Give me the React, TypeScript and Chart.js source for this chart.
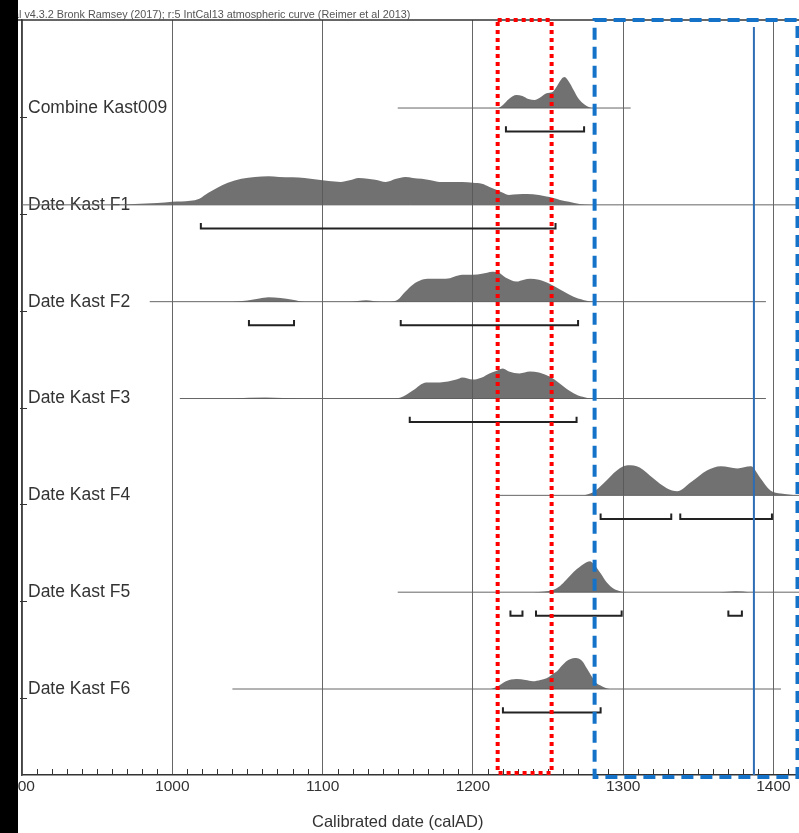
import React, { useEffect, useRef } from 'react';
import { Chart, registerables } from 'chart.js';

Chart.register(...registerables);

// ---------- data ----------
const ROW_LABELS = [
  'Combine Kast009',
  'Date Kast F1',
  'Date Kast F2',
  'Date Kast F3',
  'Date Kast F4',
  'Date Kast F5',
  'Date Kast F6',
];

const X_MIN = 900;
const X_MAX = 1417;
const X_TICK_STEP = 100;
const X_MINOR_STEP = 10;
const X_TITLE = 'Calibrated date (calAD)';
const HEADER = 'OxCal v4.3.2 Bronk Ramsey (2017); r:5 IntCal13 atmospheric curve (Reimer et al 2013)';

// [year, relative probability (peak = 100)]
const DENSITY_COMBINE = [
  [1217, 0], [1220, 10], [1224, 29], [1229, 42], [1233, 39], [1237, 29], [1241, 26], [1245, 35],
  [1249, 48], [1253, 52], [1256, 71], [1259, 94], [1261, 100], [1264, 84], [1267, 58], [1270, 32],
  [1273, 16], [1276, 6], [1279, 0],
];
const DENSITY_F1 = [
  [960, 0], [975, 3], [990, 6], [1000, 10], [1012, 13], [1018, 20], [1024, 39], [1030, 55], [1037, 71],
  [1046, 84], [1055, 90], [1064, 92], [1071, 90], [1080, 89], [1088, 87], [1096, 82], [1104, 77],
  [1112, 74], [1118, 79], [1124, 87], [1130, 84], [1135, 81], [1142, 74], [1149, 84], [1155, 90],
  [1160, 87], [1166, 84], [1172, 79], [1178, 74], [1186, 74], [1193, 74], [1200, 71], [1206, 68],
  [1211, 58], [1216, 48], [1220, 39], [1224, 32], [1230, 34], [1236, 35], [1244, 32], [1249, 27],
  [1253, 23], [1258, 16], [1264, 10], [1271, 3], [1278, 0],
];
const DENSITY_F2 = [
  [1040, 0], [1050, 4], [1058, 10], [1064, 14], [1072, 12], [1080, 6], [1088, 0],
  [1118, 0], [1129, 5], [1138, 0],
  [1145, 0], [1150, 6], [1155, 32], [1160, 55], [1166, 71], [1171, 74], [1182, 74], [1193, 87],
  [1200, 87], [1206, 90], [1213, 97], [1217, 94], [1222, 77], [1229, 65], [1234, 71], [1238, 74],
  [1244, 71], [1251, 58], [1258, 39], [1264, 23], [1270, 10], [1274, 5], [1279, 0],
];
const DENSITY_F3 = [
  [1040, 0], [1062, 3], [1085, 0],
  [1148, 0], [1152, 3], [1160, 26], [1169, 52], [1178, 52], [1189, 61], [1193, 68], [1200, 61],
  [1206, 68], [1211, 81], [1216, 90], [1220, 97], [1224, 87], [1231, 81], [1238, 87], [1244, 84],
  [1251, 71], [1258, 48], [1264, 26], [1270, 10], [1273, 6], [1278, 0],
];
const DENSITY_F4 = [
  [1274, 0], [1280, 10], [1287, 39], [1296, 81], [1303, 97], [1311, 90], [1320, 55], [1329, 23],
  [1336, 13], [1345, 42], [1356, 81], [1365, 94], [1376, 87], [1385, 94], [1391, 58], [1398, 16],
  [1405, 6], [1410, 3], [1416, 0],
];
const DENSITY_F5 = [
  [1240, 0], [1248, 2], [1253, 6], [1258, 20], [1262, 39], [1267, 65], [1271, 81], [1276, 97],
  [1278, 100], [1281, 87], [1285, 61], [1289, 32], [1294, 10], [1298, 3], [1302, 0],
  [1364, 0], [1375, 3], [1384, 0],
];
const DENSITY_F6 = [
  [1212, 0], [1217, 10], [1222, 25], [1229, 32], [1235, 29], [1240, 25], [1245, 29], [1249, 35],
  [1253, 48], [1256, 57], [1259, 74], [1262, 89], [1265, 97], [1268, 100], [1271, 97], [1273, 89],
  [1276, 65], [1279, 41], [1282, 20], [1285, 11], [1288, 4], [1291, 0],
];
const DENSITIES = [DENSITY_COMBINE, DENSITY_F1, DENSITY_F2, DENSITY_F3, DENSITY_F4, DENSITY_F5, DENSITY_F6];

// extent of the thin base line of each row [from, to]
const LINE_EXTENTS = [
  [1150, 1305],
  [900, 1417],
  [985, 1395],
  [1005, 1395],
  [1217, 1417],
  [1150, 1417],
  [1040, 1405],
];

// 95.4% ranges (brackets)
const RANGES_COMBINE = [[1222, 1274]];
const RANGES_F1 = [[1019, 1255]];
const RANGES_F2 = [[1051, 1081], [1152, 1270]];
const RANGES_F3 = [[1158, 1269]];
const RANGES_F4 = [[1285, 1332], [1338, 1399]];
const RANGES_F5 = [[1225, 1233], [1242, 1299], [1370, 1379]];
const RANGES_F6 = [[1220, 1285]];
const RANGES = [RANGES_COMBINE, RANGES_F1, RANGES_F2, RANGES_F3, RANGES_F4, RANGES_F5, RANGES_F6];

// highlighted windows
const RED_WINDOW = [1216.5, 1252.4];
const BLUE_WINDOW = [1281, 1416];
const BLUE_MARK = 1387;

// ---------- styling constants ----------
const FONT = '"Liberation Sans", Arial, sans-serif';
const Y_MIN = -0.909;
const Y_MAX = 6.888;
const PEAK = 0.32; // row units for a peak of 100
const BRACKET_OFF = 0.243;
const BRACKET_TICK = 0.055;

const overlayPlugin = {
  id: 'overlay',
  beforeDraw(chart: any) {
    const { ctx, width, height } = chart;
    ctx.save();
    ctx.fillStyle = '#ffffff';
    ctx.fillRect(0, 0, width, height);
    ctx.restore();
  },
  afterDatasetsDraw(chart: any) {
    const { ctx, chartArea, scales } = chart;
    const xs = scales.x;
    const ys = scales.y;
    ctx.save();
    // minor ticks on the bottom axis
    ctx.strokeStyle = '#333';
    ctx.lineWidth = 1;
    ctx.beginPath();
    for (let v = X_MIN + X_MINOR_STEP; v <= X_MAX; v += X_MINOR_STEP) {
      if (v % X_TICK_STEP === 0) continue;
      const px = Math.round(xs.getPixelForValue(v)) + 0.5;
      ctx.moveTo(px, chartArea.bottom);
      ctx.lineTo(px, chartArea.bottom - 6);
    }
    ctx.stroke();
    // row ticks at left
    ctx.beginPath();
    ROW_LABELS.forEach((_, i) => {
      const py = Math.round(ys.getPixelForValue(i)) + 9.5;
      ctx.moveTo(chartArea.left - 2, py);
      ctx.lineTo(chartArea.left + 5, py);
    });
    ctx.stroke();
    // top frame line
    ctx.strokeStyle = '#333';
    ctx.lineWidth = 1.5;
    ctx.beginPath();
    ctx.moveTo(0, chartArea.top);
    ctx.lineTo(chart.width, chartArea.top);
    ctx.stroke();

    // blue solid marker
    const bm = xs.getPixelForValue(BLUE_MARK);
    ctx.strokeStyle = '#2e6db5';
    ctx.lineWidth = 2;
    ctx.beginPath();
    ctx.moveTo(bm, chartArea.top + 7);
    ctx.lineTo(bm, chartArea.bottom);
    ctx.stroke();

    // red dotted window
    const r1 = xs.getPixelForValue(RED_WINDOW[0]);
    const r2 = xs.getPixelForValue(RED_WINDOW[1]);
    ctx.strokeStyle = '#ff0000';
    ctx.lineWidth = 4;
    ctx.setLineDash([4, 4]);
    ctx.strokeRect(r1, chartArea.top, r2 - r1, chartArea.bottom - 2 - chartArea.top);

    // blue dashed window
    const b1 = xs.getPixelForValue(BLUE_WINDOW[0]);
    const b2 = xs.getPixelForValue(BLUE_WINDOW[1]);
    ctx.strokeStyle = '#1473c8';
    ctx.lineWidth = 4;
    ctx.setLineDash([12, 7]);
    ctx.strokeRect(b1, chartArea.top, b2 - b1, chartArea.bottom + 2 - chartArea.top);
    ctx.setLineDash([]);

    // x axis title, centred on the 900-1400 span
    const cx = (xs.getPixelForValue(900) + xs.getPixelForValue(1400)) / 2;
    ctx.fillStyle = '#333';
    ctx.font = `16.5px ${FONT}`;
    ctx.textAlign = 'center';
    ctx.textBaseline = 'middle';
    ctx.fillText(X_TITLE, cx, 822);
    ctx.restore();
  },
  afterDraw(chart: any) {
    const { ctx, chartArea, height } = chart;
    ctx.save();
    ctx.font = `10.8px ${FONT}`;
    ctx.fillStyle = '#555';
    ctx.textAlign = 'left';
    ctx.textBaseline = 'alphabetic';
    const hidden = ctx.measureText('OxCa').width;
    ctx.fillText(HEADER, 19 - hidden, chartArea.top - 2.5);
    // black band on the left edge
    ctx.fillStyle = '#000';
    ctx.fillRect(0, 0, 18, height);
    ctx.restore();
  },
};

export default function App() {
  const canvasRef = useRef<HTMLCanvasElement | null>(null);

  useEffect(() => {
    document.body.style.margin = '0';
    const canvas = canvasRef.current;
    if (!canvas) return;

    const datasets: any[] = [];
    ROW_LABELS.forEach((_, i) => {
      datasets.push({
        data: [
          { x: LINE_EXTENTS[i][0], y: i },
          { x: LINE_EXTENTS[i][1], y: i },
        ],
        borderColor: '#666',
        borderWidth: 1,
        pointRadius: 0,
        fill: false,
        order: 3,
      });
      datasets.push({
        data: DENSITIES[i].map(([x, p]) => ({ x, y: i - (p / 100) * PEAK })),
        borderColor: 'rgba(0,0,0,0)',
        borderWidth: 0,
        backgroundColor: 'rgba(88,88,88,0.85)',
        fill: { value: i },
        pointRadius: 0,
        cubicInterpolationMode: 'monotone',
        order: 2,
      });
      RANGES[i].forEach(([a, b]) => {
        datasets.push({
          data: [
            { x: a, y: i + BRACKET_OFF - BRACKET_TICK },
            { x: a, y: i + BRACKET_OFF },
            { x: b, y: i + BRACKET_OFF },
            { x: b, y: i + BRACKET_OFF - BRACKET_TICK },
          ],
          borderColor: '#222',
          borderWidth: 2,
          pointRadius: 0,
          fill: false,
          tension: 0,
          order: 1,
        });
      });
    });

    const chart = new Chart(canvas, {
      type: 'line',
      data: { datasets },
      options: {
        animation: false,
        responsive: false,
        devicePixelRatio: 1,
        events: [],
        layout: { padding: { left: 22, top: 20, right: 0, bottom: 0 } },
        plugins: { legend: { display: false }, tooltip: { enabled: false } },
        scales: {
          x: {
            type: 'linear',
            min: X_MIN,
            max: X_MAX,
            afterFit: (s: any) => {
              s.height = 58;
            },
            grid: { color: '#666', lineWidth: 1, drawTicks: false },
            border: { display: true, color: '#333', width: 1.5 },
            ticks: {
              stepSize: X_TICK_STEP,
              includeBounds: false,
              autoSkip: false,
              maxRotation: 0,
              padding: 2,
              color: '#333',
              font: { family: FONT, size: 15.5 },
              callback: (v: any) => String(v),
            },
          },
          y: {
            type: 'linear',
            reverse: true,
            min: Y_MIN,
            max: Y_MAX,
            afterFit: (s: any) => {
              s.width = 0;
            },
            afterBuildTicks: (s: any) => {
              s.ticks = ROW_LABELS.map((_, i) => ({ value: i }));
            },
            grid: { display: false, drawTicks: false },
            border: { display: true, color: '#444', width: 1.5 },
            ticks: {
              mirror: true,
              padding: 6,
              color: '#333',
              font: { family: FONT, size: 17.5 },
              callback: (_v: any, idx: number) => ROW_LABELS[idx],
            },
          },
        },
      } as any,
      plugins: [overlayPlugin],
    });

    return () => chart.destroy();
  }, []);

  return (
    <div style={{ width: 799, height: 833 }}>
      <canvas ref={canvasRef} width={799} height={833} style={{ display: 'block', width: 799, height: 833 }} />
    </div>
  );
}
